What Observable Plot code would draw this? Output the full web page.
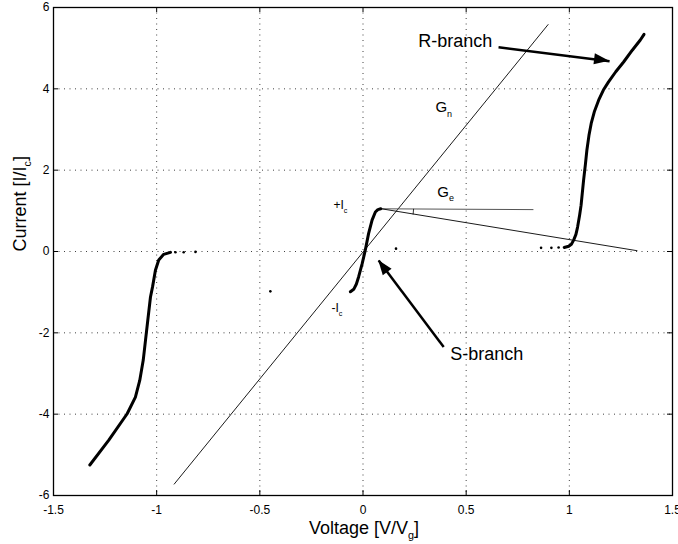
<!DOCTYPE html>
<html><head><meta charset="utf-8">
<script src="https://cdn.jsdelivr.net/npm/d3@7"></script>
<script src="https://cdn.jsdelivr.net/npm/@observablehq/plot@0.6"></script>
<style>body{margin:0;background:#fff}#chart svg{display:block}</style>
</head><body><div id="chart"></div>
<script>
// ---- tick labels ----
const xTicks = [-1.5, -1, -0.5, 0, 0.5, 1, 1.5];
const xTickLabels = ["-1.5", "-1", "-0.5", "0", "0.5", "1", "1.5"];
const yTicks = [-6, -4, -2, 0, 2, 4, 6];
const yTickLabels = ["-6", "-4", "-2", "0", "2", "4", "6"];

// ---- measured I-V curves (V/Vg, I/Ic) ----
const leftV = [-1.324, -1.232, -1.143, -1.103, -1.082, -1.065, -1.054, -1.043, -1.030, -1.020, -1.006, -0.990, -0.966, -0.933];
const leftI = [-5.25, -4.64, -3.99, -3.58, -3.17, -2.67, -2.18, -1.69, -1.12, -0.87, -0.46, -0.21, -0.07, -0.02];
const sV = [-0.061, -0.045, -0.032, -0.021, -0.004, 0.011, 0.027, 0.044, 0.060, 0.072, 0.086];
const sI = [-0.99, -0.93, -0.80, -0.62, -0.30, 0.03, 0.44, 0.77, 0.97, 1.03, 1.05];
const rightV = [0.975, 0.997, 1.010, 1.021, 1.032, 1.040, 1.050, 1.057, 1.069, 1.078, 1.085, 1.095, 1.106, 1.122, 1.142, 1.165, 1.190, 1.225, 1.263, 1.305, 1.344, 1.362];
const rightI = [0.10, 0.13, 0.18, 0.28, 0.42, 0.60, 0.90, 1.14, 1.75, 2.15, 2.49, 2.85, 3.15, 3.45, 3.72, 3.97, 4.17, 4.42, 4.66, 4.95, 5.20, 5.34];
const dotV = [-0.909, -0.869, -0.812, -0.449, 0.160, 0.863, 0.913, 0.948];
const dotI = [-0.02, -0.02, -0.01, -0.98, 0.07, 0.09, 0.09, 0.10];

// ---- conductance lines ----
const gnV = [-0.915, 0.897];
const gnI = [-5.72, 5.58];
const geFlatV = [0.09, 0.824];
const geFlatI = [1.05, 1.03];
const geSlopeV = [0.09, 1.328];
const geSlopeI = [1.05, 0.02];
const angleV = [0.245, 0.243];
const angleI = [1.04, 0.92];

// ---- annotation arrows ----
const arrowFromV = [0.657, 0.391];
const arrowFromI = [5.02, -2.35];
const arrowToV = [1.195, 0.076];
const arrowToI = [4.68, -0.22];

// ---- annotation labels ----
const labelText = ["R-branch", "S-branch", "G_n", "G_e", "+I_c", "-I_c"];
const labelV = [0.268, 0.423, 0.351, 0.360, -0.143, -0.153];
const labelI = [5.03, -2.68, 3.42, 1.35, 1.04, -1.49];
const labelSize = [18, 18, 15, 15, 12, 12];

const xAxisTitle = "Voltage [V/V_g]";
const yAxisTitle = "Current [I/I_c]";

const pts = (xs, ys) => xs.map((x, i) => ({x, y: ys[i]}));
const labels = labelText.map((t, i) => ({t, x: labelV[i], y: labelI[i], s: labelSize[i]}));
const arrows = arrowFromV.map((v, i) => ({x1: v, y1: arrowFromI[i], x2: arrowToV[i], y2: arrowToI[i]}));

function arrowHeads(index, scales) {
  const {x, y} = scales;
  const g = d3.create("svg:g").attr("fill", "black");
  for (const a of arrows) {
    const x1 = x(a.x1), y1 = y(a.y1), x2 = x(a.x2), y2 = y(a.y2);
    const ang = Math.atan2(y2 - y1, x2 - x1);
    const L = 15, W = 5.5;
    const bx = x2 - L * Math.cos(ang), by = y2 - L * Math.sin(ang);
    const px = -Math.sin(ang) * W, py = Math.cos(ang) * W;
    g.append("path").attr("d", `M${x2},${y2}L${bx + px},${by + py}L${bx - px},${by - py}Z`);
  }
  return g.node();
}

const innerX = xTicks.slice(1, -1), innerY = yTicks.slice(1, -1);
const dash = "1,4.5";

const chart = Plot.plot({
  width: 678,
  height: 544,
  marginLeft: 53,
  marginRight: 6,
  marginTop: 7,
  marginBottom: 49,
  style: {fontFamily: "'Liberation Sans', Arial, Helvetica, sans-serif", fontSize: "12px", background: "white", color: "black"},
  x: {domain: [-1.5, 1.5], ticks: xTicks, tickFormat: d => xTickLabels[xTicks.indexOf(d)], tickSize: 0, tickPadding: 10, label: null},
  y: {domain: [-6, 6], ticks: yTicks, tickFormat: d => yTickLabels[yTicks.indexOf(d)], tickSize: 0, tickPadding: 4, label: null},
  marks: [
    Plot.ruleX(innerX, {stroke: "#000", strokeOpacity: 0.75, strokeDasharray: dash}),
    Plot.ruleY(innerY, {stroke: "#000", strokeOpacity: 0.75, strokeDasharray: dash}),
    Plot.tickX(innerX, {x: d => d, insetTop: 483, stroke: "black"}),
    Plot.tickX(innerX, {x: d => d, insetBottom: 483, stroke: "black"}),
    Plot.tickY(innerY, {y: d => d, insetRight: 614, stroke: "black"}),
    Plot.tickY(innerY, {y: d => d, insetLeft: 614, stroke: "black"}),
    Plot.frame({stroke: "black", strokeWidth: 1.3}),
    Plot.line(pts(gnV, gnI), {x: "x", y: "y", stroke: "black", strokeWidth: 0.9}),
    Plot.line(pts(geFlatV, geFlatI), {x: "x", y: "y", stroke: "#555", strokeWidth: 1}),
    Plot.line(pts(geSlopeV, geSlopeI), {x: "x", y: "y", stroke: "black", strokeWidth: 0.9}),
    Plot.line(pts(angleV, angleI), {x: "x", y: "y", stroke: "black", strokeWidth: 0.8}),
    Plot.line(pts(leftV, leftI), {x: "x", y: "y", stroke: "black", strokeWidth: 3, strokeLinejoin: "round"}),
    Plot.line(pts(sV, sI), {x: "x", y: "y", stroke: "black", strokeWidth: 3, strokeLinejoin: "round"}),
    Plot.line(pts(rightV, rightI), {x: "x", y: "y", stroke: "black", strokeWidth: 3, strokeLinejoin: "round"}),
    Plot.dot(pts(dotV, dotI), {x: "x", y: "y", r: 1.3, fill: "black", stroke: null}),
    Plot.link(arrows, {x1: "x1", y1: "y1", x2: "x2", y2: "y2", stroke: "black", strokeWidth: 2.5}),
    arrowHeads,
    ...labels.map(l => Plot.text([l], {x: "x", y: "y", text: "t", textAnchor: "start", lineAnchor: "bottom", fontSize: l.s, fill: "black"})),
    Plot.text([xAxisTitle], {text: d => d, frameAnchor: "bottom", lineAnchor: "bottom", dy: 38, dx: 1, fontSize: 18, fill: "black"}),
    Plot.text([yAxisTitle], {text: d => d, frameAnchor: "left", lineAnchor: "bottom", rotate: -90, dx: -28, fontSize: 18, fill: "black"})
  ]
});

document.getElementById("chart").appendChild(chart);

// render subscripts (e.g. "G_n") as real tspans
d3.select(chart).selectAll("text").each(function () {
  const t = this.textContent;
  if (!t.includes("_")) return;
  const fs = parseFloat(getComputedStyle(this).fontSize) || 12;
  const m = t.match(/^(.*?)_(.)(.*)$/);
  if (!m) return;
  const sel = d3.select(this);
  sel.text(null);
  sel.append("tspan").text(m[1]);
  sel.append("tspan").attr("font-size", fs * 0.6).attr("dy", fs * 0.3).text(m[2]);
  if (m[3]) sel.append("tspan").attr("font-size", fs).attr("dy", -fs * 0.3).text(m[3]);
});
</script></body></html>
